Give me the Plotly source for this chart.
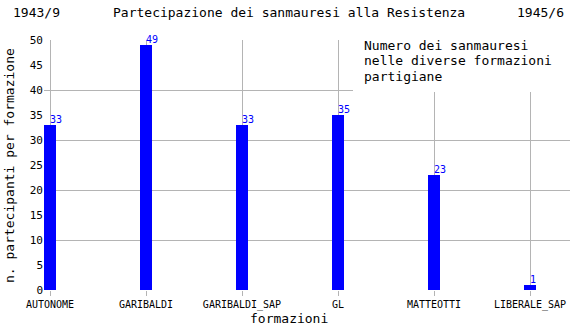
import plotly.graph_objects as go

categories = ["AUTONOME", "GARIBALDI", "GARIBALDI_SAP", "GL", "MATTEOTTI", "LIBERALE_SAP"]
values = [33, 49, 33, 35, 23, 1]
y_ticks = [0, 5, 10, 15, 20, 25, 30, 35, 40, 45, 50]
title_left = "1943/9"
title_mid = "Partecipazione dei sanmauresi alla Resistenza"
title_right = "1945/6"
legend_lines = ["Numero dei sanmauresi", "nelle diverse formazioni", "partigiane"]
y_title = "n. partecipanti per formazione"
x_title = "formazioni"

W, H = 570, 330
L, R, T, B = 44, 0, 40, 40
PW, PH = W - L - R, H - T - B
FONT = "DejaVu Sans Mono"
GRID = "#b4b4b4"
BLUE = "#0000ff"

def px(x):
    return (x - L) / PW

def py(y):
    return (H - B - y) / PH

xs = list(range(len(categories)))

fig = go.Figure()
fig.add_trace(go.Bar(x=xs, y=values, width=0.135, marker=dict(color=BLUE, line=dict(width=0)),
                     showlegend=False, hoverinfo="skip"))
fig.add_trace(go.Scatter(x=xs, y=values, mode="text", text=[str(v) for v in values],
                         textposition="top right", textfont=dict(family=FONT, size=10, color=BLUE),
                         showlegend=False, hoverinfo="skip", cliponaxis=False))
# invisible trace to activate grid axis
fig.add_trace(go.Scatter(x=[0], y=[0], yaxis="y2", mode="markers", marker=dict(opacity=0),
                         showlegend=False, hoverinfo="skip"))

fig.update_layout(
    width=W, height=H, margin=dict(l=L, r=R, t=T, b=B),
    paper_bgcolor="white", plot_bgcolor="white",
    font=dict(family=FONT, color="black"),
    xaxis=dict(range=[-0.0625, 5.4167], tickvals=xs, ticktext=categories,
               showgrid=True, gridcolor=GRID, gridwidth=1, zeroline=False,
               ticks="outside", ticklen=5, tickcolor=GRID, showline=False,
               tickfont=dict(family=FONT, size=10, color="black")),
    yaxis=dict(range=[0, 50], tickvals=y_ticks, showgrid=False, zeroline=False,
               showline=False, ticks="", tickfont=dict(family=FONT, size=11, color="black")),
    yaxis2=dict(range=[0, 50], overlaying="y", dtick=10, tick0=0, showgrid=True,
                gridcolor=GRID, gridwidth=1, showticklabels=False, zeroline=False,
                showline=False, ticks=""),
    bargap=0,
)

fig.add_shape(type="rect", xref="paper", yref="paper", x0=px(353), x1=1.0, y0=py(92), y1=py(30),
              fillcolor="white", line=dict(width=0), layer="above")

ann = [
    dict(text=title_left, x=px(11), y=py(13), xanchor="left"),
    dict(text=title_mid, x=px(111), y=py(13), xanchor="left"),
    dict(text=title_right, x=px(566), y=py(13), xanchor="right"),
    dict(text=x_title, x=px(289), y=py(318), xanchor="center"),
    dict(text=y_title, x=px(9), y=py(166), xanchor="center", textangle=-90),
]
for i, line in enumerate(legend_lines):
    ann.append(dict(text=line, x=px(362), y=py(45 + 15.8 * i), xanchor="left"))
for a in ann:
    fig.add_annotation(xref="paper", yref="paper", yanchor="middle", showarrow=False,
                       font=dict(family=FONT, size=13, color="black"), **a)

fig.write_html("out.html")
